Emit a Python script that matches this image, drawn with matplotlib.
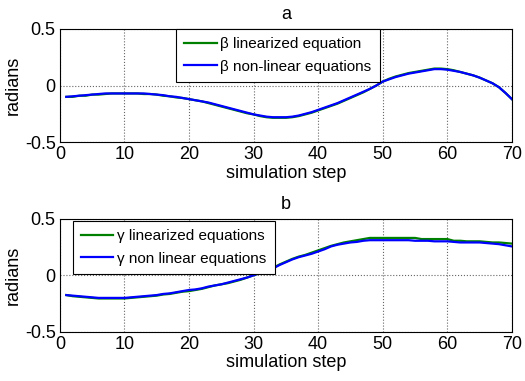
import matplotlib
matplotlib.use('Agg')
import matplotlib.pyplot as plt

# pasos de simulacion 1..70
steps = list(range(1, 71))

beta_nonlinear = [
    -0.100, -0.095, -0.090, -0.085, -0.080, -0.075, -0.070, -0.070, -0.070, -0.070,
    -0.070, -0.070, -0.070, -0.075, -0.080, -0.085, -0.095, -0.100, -0.110, -0.120,
    -0.130, -0.140, -0.150, -0.165, -0.180, -0.195, -0.210, -0.225, -0.240, -0.255,
    -0.265, -0.275, -0.280, -0.280, -0.280, -0.275, -0.265, -0.250, -0.235, -0.215,
    -0.195, -0.175, -0.155, -0.130, -0.105, -0.080, -0.055, -0.030, 0.000, 0.035,
    0.055, 0.075, 0.090, 0.105, 0.115, 0.125, 0.135, 0.145, 0.145, 0.140,
    0.130, 0.120, 0.105, 0.090, 0.070, 0.045, 0.020, -0.015, -0.065, -0.120,
]
beta_linear = [
    -0.100, -0.100, -0.090, -0.090, -0.080, -0.080, -0.075, -0.070, -0.070, -0.070,
    -0.070, -0.070, -0.075, -0.075, -0.080, -0.090, -0.095, -0.105, -0.110, -0.120,
    -0.130, -0.140, -0.155, -0.170, -0.185, -0.200, -0.215, -0.230, -0.245, -0.255,
    -0.270, -0.280, -0.285, -0.285, -0.285, -0.280, -0.270, -0.255, -0.240, -0.220,
    -0.200, -0.180, -0.160, -0.135, -0.110, -0.085, -0.060, -0.030, 0.000, 0.035,
    0.060, 0.080, 0.095, 0.110, 0.120, 0.130, 0.140, 0.150, 0.150, 0.145,
    0.135, 0.120, 0.105, 0.090, 0.070, 0.045, 0.020, -0.015, -0.065, -0.120,
]

gamma_nonlinear = [
    -0.175, -0.180, -0.185, -0.190, -0.195, -0.200, -0.200, -0.200, -0.200, -0.200,
    -0.195, -0.190, -0.185, -0.180, -0.175, -0.165, -0.160, -0.150, -0.140, -0.130,
    -0.125, -0.115, -0.100, -0.090, -0.080, -0.065, -0.050, -0.035, -0.020, 0.000,
    0.020, 0.040, 0.060, 0.090, 0.115, 0.140, 0.160, 0.175, 0.190, 0.210,
    0.230, 0.255, 0.270, 0.280, 0.290, 0.295, 0.305, 0.310, 0.310, 0.310,
    0.310, 0.310, 0.310, 0.310, 0.305, 0.305, 0.305, 0.300, 0.300, 0.300,
    0.295, 0.290, 0.290, 0.290, 0.290, 0.285, 0.280, 0.275, 0.265, 0.255,
]
gamma_linear = [
    -0.175, -0.185, -0.190, -0.195, -0.200, -0.205, -0.205, -0.205, -0.205, -0.205,
    -0.200, -0.195, -0.190, -0.185, -0.180, -0.170, -0.165, -0.155, -0.145, -0.140,
    -0.130, -0.120, -0.105, -0.090, -0.080, -0.070, -0.055, -0.040, -0.020, 0.000,
    0.020, 0.040, 0.065, 0.095, 0.120, 0.145, 0.165, 0.180, 0.200, 0.220,
    0.240, 0.260, 0.275, 0.290, 0.300, 0.310, 0.320, 0.330, 0.330, 0.330,
    0.330, 0.330, 0.330, 0.330, 0.330, 0.320, 0.320, 0.320, 0.320, 0.320,
    0.305, 0.305, 0.300, 0.300, 0.300, 0.295, 0.290, 0.290, 0.285, 0.280,
]

plt.rcParams['font.family'] = ['Liberation Sans', 'DejaVu Sans']

fig = plt.figure(figsize=(5.25, 3.81), dpi=100)
ax1 = fig.add_axes([0.114, 0.627, 0.861, 0.297])
ax2 = fig.add_axes([0.114, 0.129, 0.861, 0.297])

green = (0, 0.5, 0)
blue = (0, 0, 1)


def style_axes(ax, title):
    ax.set_xlim(0, 70)
    ax.set_ylim(-0.5, 0.5)
    ax.set_xticks(range(0, 71, 10))
    ax.set_yticks([-0.5, 0, 0.5])
    ax.set_yticklabels(['-0.5', '0', '0.5'])
    ax.tick_params(labelsize=13, length=0, pad=3)
    ax.grid(True, linestyle=':', color='0.4', linewidth=0.8)
    ax.set_xlabel('simulation step', fontsize=13, labelpad=1)
    ax.set_ylabel('radians', fontsize=13, labelpad=2)
    ax.set_title(title, fontsize=13, pad=7)
    for s in ax.spines.values():
        s.set_color('black')
        s.set_linewidth(0.8)


def add_legend(ax, anchor):
    leg = ax.legend(loc='upper left', bbox_to_anchor=anchor, borderaxespad=0,
                    fontsize=11, fancybox=False, framealpha=1, edgecolor='black',
                    handlelength=2.1, handletextpad=0.25, borderpad=0.55,
                    labelspacing=0.55)
    leg.get_frame().set_linewidth(0.8)


ax1.plot(steps, beta_linear, color=green, lw=1.6, label='β linearized equation')
ax1.plot(steps, beta_nonlinear, color=blue, lw=1.6, label='β non-linear equations')
style_axes(ax1, 'a')
add_legend(ax1, (0.257, 1.0))

ax2.plot(steps, gamma_linear, color=green, lw=1.6, label='γ linearized equations')
ax2.plot(steps, gamma_nonlinear, color=blue, lw=1.6, label='γ non linear equations')
style_axes(ax2, 'b')
add_legend(ax2, (0.029, 0.98))

fig.savefig('out.png', dpi=100)
